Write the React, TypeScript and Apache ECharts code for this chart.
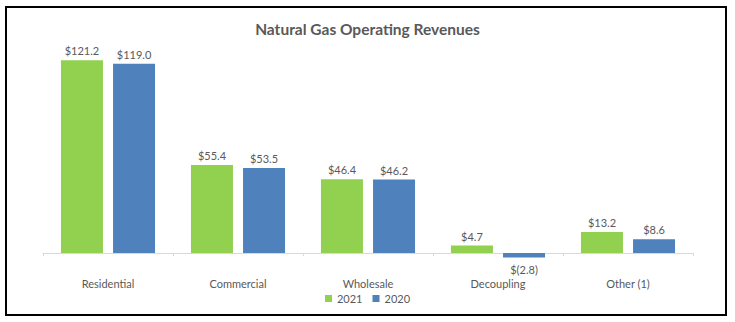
import React, { useEffect, useRef } from "react";
import * as echarts from "echarts";

const categories = ["Residential", "Commercial", "Wholesale", "Decoupling", "Other (1)"];
const values2021 = [121.2, 55.4, 46.4, 4.7, 13.2];
const values2020 = [119.0, 53.5, 46.2, -2.8, 8.6];
const seriesNames = ["2021", "2020"];
const chartTitle = "Natural Gas Operating Revenues";

const FONT = "Lato, 'Open Sans', sans-serif";
const TEXT = "#595959";

const fmt = (v: number) => (v < 0 ? `$(${Math.abs(v).toFixed(1)})` : `$${v.toFixed(1)}`);

const toData = (arr: number[]) =>
  arr.map((v) => ({ value: v, label: v < 0 ? { position: "bottom", distance: 7 } : undefined }));

export default function App() {
  const ref = useRef<HTMLDivElement>(null);
  useEffect(() => {
    if (!ref.current) return;
    const chart = echarts.init(ref.current, undefined, { renderer: "svg" });
    const labelCfg = {
      show: true,
      position: "top",
      distance: 4,
      color: TEXT,
      fontSize: 11,
      fontFamily: FONT,
      formatter: (p: any) => fmt(p.value),
    };
    chart.setOption({
      animation: false,
      backgroundColor: "#ffffff",
      title: {
        text: chartTitle,
        left: "center",
        top: 16,
        textStyle: { color: TEXT, fontSize: 15.5, fontWeight: "bold", fontFamily: FONT },
      },
      graphic: [
        {
          type: "rect",
          shape: { x: 6, y: 7, width: 720, height: 308 },
          style: { fill: "none", stroke: "#000", lineWidth: 2 },
          z: 100,
        },
      ],
      legend: {
        data: seriesNames,
        top: 288,
        left: "center",
        icon: "rect",
        itemWidth: 7,
        itemHeight: 7,
        itemGap: 10,
        textStyle: { color: TEXT, fontSize: 11, fontFamily: FONT },
      },
      grid: { left: 43, right: 42, top: 46.3, bottom: 53.1, containLabel: false },
      xAxis: {
        type: "category",
        data: categories,
        axisLine: { show: true, onZero: true, lineStyle: { color: "#d9d9d9", width: 1 } },
        axisTick: { show: true, length: 3, lineStyle: { color: "#d9d9d9" } },
        axisLabel: { color: TEXT, fontSize: 11, fontFamily: FONT, margin: 9 },
      },
      yAxis: {
        type: "value",
        min: -10,
        max: 130,
        show: false,
        splitLine: { show: false },
      },
      series: [
        {
          name: seriesNames[0],
          type: "bar",
          data: toData(values2021),
          barWidth: 42,
          barGap: "24%",
          itemStyle: { color: "#92D050" },
          label: labelCfg,
        },
        {
          name: seriesNames[1],
          type: "bar",
          data: toData(values2020),
          barWidth: 42,
          itemStyle: { color: "#4F81BD" },
          label: labelCfg,
        },
      ],
    });
    return () => chart.dispose();
  }, []);
  return (
    <div style={{ position: "fixed", left: 0, top: 0, width: 735, height: 322, background: "#fff" }}>
      <div ref={ref} style={{ width: 735, height: 322 }} />
    </div>
  );
}
